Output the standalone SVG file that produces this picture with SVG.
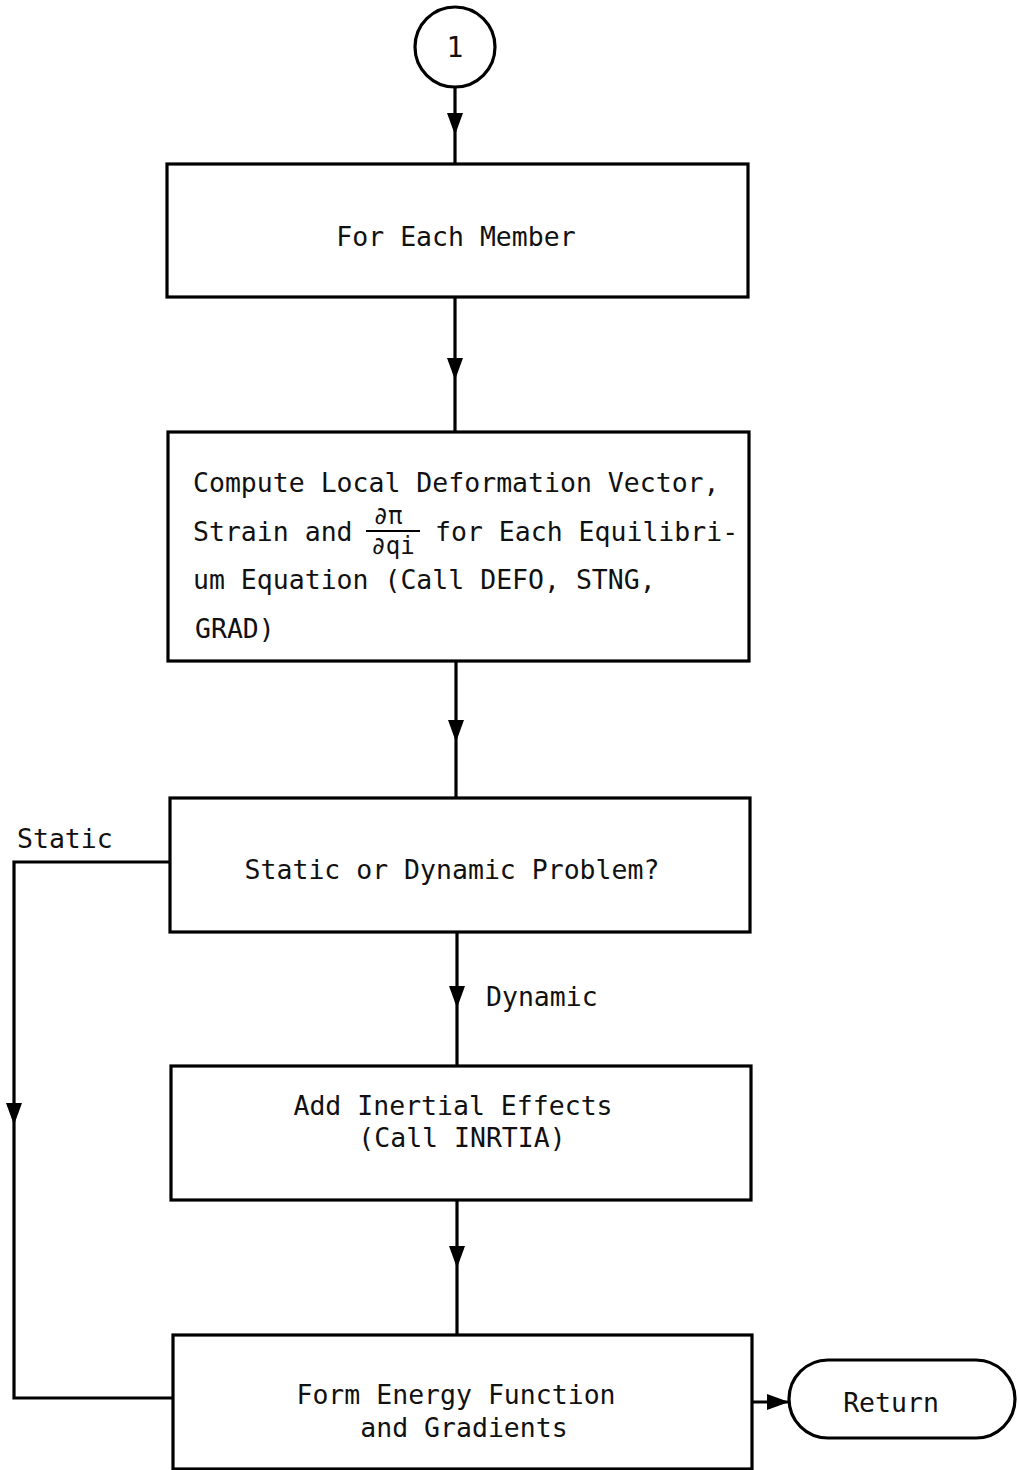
<svg xmlns="http://www.w3.org/2000/svg" width="1019" height="1470" viewBox="0 0 1019 1470">
  <style>
    .box { fill: #fff; stroke: #000; stroke-width: 3.2; }
    .wire { fill: none; stroke: #000; stroke-width: 3.2; }
    .t { font-family: "DejaVu Sans Mono", "Liberation Mono", monospace; font-size: 26.5px; fill: #111; }
    .c { text-anchor: middle; }
    .frac { font-family: "DejaVu Sans Mono", "Liberation Mono", monospace; font-size: 24px; fill: #111; text-anchor: middle; }
  </style>
  <defs>
    <marker id="arrow" markerUnits="userSpaceOnUse" markerWidth="26" markerHeight="20" viewBox="-24 -10 26 20" refX="0" refY="0" orient="auto">
      <path d="M0,0 L-22,-8 L-22,8 Z" fill="#000"/>
    </marker>
  </defs>

  <rect width="1019" height="1470" fill="#fff"/>

  <g id="connectors">
    <path class="wire" d="M455 88 V135" marker-end="url(#arrow)"/>
    <path class="wire" d="M455 135 V164"/>
    <path class="wire" d="M455 297 V380" marker-end="url(#arrow)"/>
    <path class="wire" d="M455 380 V432"/>
    <path class="wire" d="M456 661 V742" marker-end="url(#arrow)"/>
    <path class="wire" d="M456 742 V798"/>
    <path class="wire" d="M457 932 V1008" marker-end="url(#arrow)"/>
    <path class="wire" d="M457 1008 V1066"/>
    <path class="wire" d="M457 1200 V1268" marker-end="url(#arrow)"/>
    <path class="wire" d="M457 1268 V1335"/>
    <path class="wire" d="M170 862 H14 V1125" marker-end="url(#arrow)"/>
    <path class="wire" d="M14 1125 V1398 H173"/>
    <path class="wire" d="M752 1402 H789" marker-end="url(#arrow)"/>
    <text class="t" x="17" y="848">Static</text>
    <text class="t" x="486" y="1006">Dynamic</text>
  </g>

  <g id="start">
    <circle cx="455" cy="47" r="40" fill="#fff" stroke="#000" stroke-width="3.2"/>
    <text class="t c" x="455" y="57" style="font-size:28px">1</text>
  </g>

  <g id="each-member">
    <rect class="box" x="167" y="164" width="581" height="133"/>
    <text class="t c" x="456" y="246">For Each Member</text>
  </g>

  <g id="local-deformation">
    <rect class="box" x="168" y="432" width="581" height="229"/>
    <text class="t" x="193" y="492">Compute Local Deformation Vector,</text>
    <text class="t" x="193" y="541">Strain and</text>
    <text class="frac" x="388" y="524">∂π</text>
    <line x1="366" y1="531" x2="420" y2="531" stroke="#000" stroke-width="2"/>
    <text class="frac" x="393" y="554">∂qi</text>
    <text class="t" x="435" y="541">for Each Equilibri-</text>
    <text class="t" x="193" y="589">um Equation (Call DEFO, STNG,</text>
    <text class="t" x="195" y="638">GRAD)</text>
  </g>

  <g id="problem-type">
    <rect class="box" x="170" y="798" width="580" height="134"/>
    <text class="t c" x="452" y="879">Static or Dynamic Problem?</text>
  </g>

  <g id="inertial-effects">
    <rect class="box" x="171" y="1066" width="580" height="134"/>
    <text class="t c" x="453" y="1115">Add Inertial Effects</text>
    <text class="t c" x="462" y="1147">(Call INRTIA)</text>
  </g>

  <g id="energy-function">
    <rect class="box" x="173" y="1335" width="579" height="134"/>
    <text class="t c" x="456" y="1404">Form Energy Function</text>
    <text class="t c" x="464" y="1437">and Gradients</text>
  </g>

  <g id="return">
    <rect class="box" x="789" y="1360" width="226" height="78" rx="39" ry="39"/>
    <text class="t c" x="891" y="1412">Return</text>
  </g>
</svg>
